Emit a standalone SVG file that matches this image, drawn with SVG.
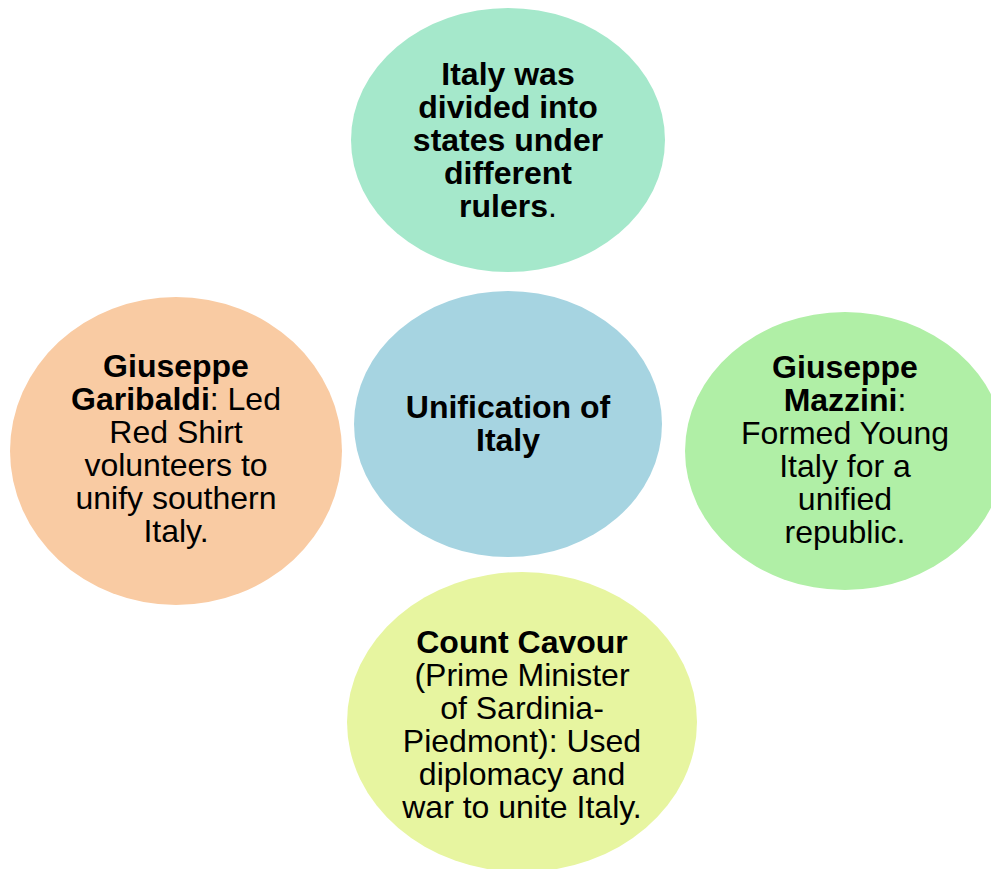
<svg xmlns="http://www.w3.org/2000/svg" width="991" height="869" viewBox="0 0 991 869">
<style>
text{font-family:"Liberation Sans",Arial,sans-serif;font-size:32px;fill:#000;text-anchor:middle}
.b{font-weight:bold}
</style>
<rect width="991" height="869" fill="#fff"/>
<g id="connectors"></g>
<g id="top">
<ellipse cx="508" cy="140" rx="157" ry="132" fill="#a5e8cb"/>
<text class="b" x="508" y="85">Italy was</text>
<text class="b" x="508" y="118">divided into</text>
<text class="b" x="508" y="151">states under</text>
<text class="b" x="508" y="184">different</text>
<text x="508" y="217"><tspan class="b">rulers</tspan>.</text>
</g>
<g id="center">
<ellipse cx="508" cy="424" rx="154" ry="133" fill="#a6d4e1"/>
<text class="b" x="508" y="418">Unification of</text>
<text class="b" x="508" y="451">Italy</text>
</g>
<g id="left">
<ellipse cx="176" cy="451" rx="166" ry="154" fill="#f9cba3"/>
<text class="b" x="176" y="377">Giuseppe</text>
<text x="176" y="410"><tspan class="b">Garibaldi</tspan>: Led</text>
<text x="176" y="443">Red Shirt</text>
<text x="176" y="476">volunteers to</text>
<text x="176" y="509">unify southern</text>
<text x="176" y="542">Italy.</text>
</g>
<g id="right">
<ellipse cx="845" cy="451" rx="160" ry="139" fill="#b0efa6"/>
<text class="b" x="845" y="378">Giuseppe</text>
<text x="845" y="411"><tspan class="b">Mazzini</tspan>:</text>
<text x="845" y="444">Formed Young</text>
<text x="845" y="477">Italy for a</text>
<text x="845" y="510">unified</text>
<text x="845" y="543">republic.</text>
</g>
<g id="bottom">
<ellipse cx="522" cy="722" rx="175" ry="150" fill="#e7f5a0"/>
<text class="b" x="522" y="653">Count Cavour</text>
<text x="522" y="686">(Prime Minister</text>
<text x="522" y="719">of Sardinia-</text>
<text x="522" y="752">Piedmont): Used</text>
<text x="522" y="785">diplomacy and</text>
<text x="522" y="818">war to unite Italy.</text>
</g>
</svg>
